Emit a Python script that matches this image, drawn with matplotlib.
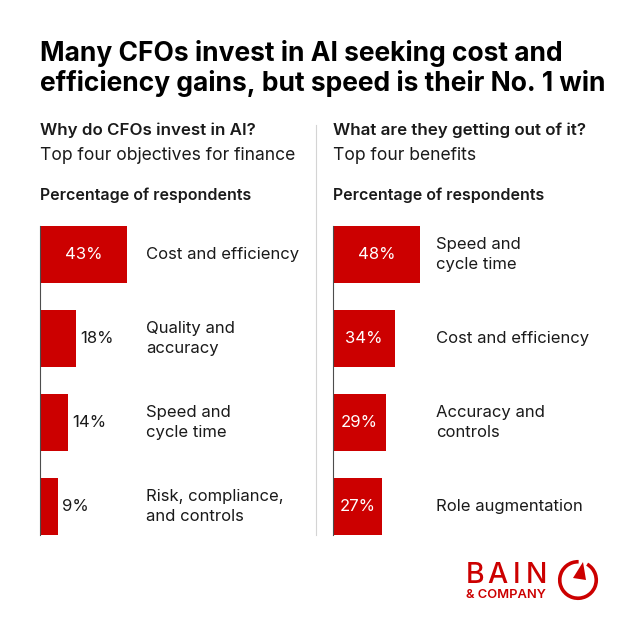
import numpy as np
import matplotlib as mpl
import matplotlib.pyplot as plt
from matplotlib.patches import Arc, Polygon
import matplotlib.transforms as mtransforms

## data
left_cats   = ["Cost and efficiency", "Quality and\naccuracy", "Speed and\ncycle time", "Risk, compliance,\nand controls"]
left_vals   = [43, 18, 14, 9]
right_cats  = ["Speed and\ncycle time", "Cost and efficiency", "Accuracy and\ncontrols", "Role augmentation"]
right_vals  = [48, 34, 29, 27]

title      = "Many CFOs invest in AI seeking cost and\nefficiency gains, but speed is their No. 1 win"
left_head  = "Why do CFOs invest in AI?"
left_sub   = "Top four objectives for finance"
right_head = "What are they getting out of it?"
right_sub  = "Top four benefits"
unit_label = "Percentage of respondents"

RED  = "#cc0000"
INK  = "#1a1a1a"
FONT = "Inter"

mpl.rcParams['font.family'] = FONT

W = H = 640
fig = plt.figure(figsize=(6.4, 6.4), dpi=100)

def fx(x): return x / W
def fy(y): return 1 - y / H

## title + headers (va=baseline aligns the last line)
fig.text(fx(40), fy(91), title, fontsize=19, fontweight="bold", color="black",
         va="baseline", ha="left", linespacing=1.15)

for x0, head, sub in [(40, left_head, left_sub), (333, right_head, right_sub)]:
    fig.text(fx(x0), fy(135), head, fontsize=12.2, fontweight="semibold", color=INK, va="baseline")
    fig.text(fx(x0), fy(160), sub, fontsize=12.6, color=INK, va="baseline")
    fig.text(fx(x0), fy(200), unit_label, fontsize=11.5, fontweight="semibold", color=INK, va="baseline")

## divider
fig.add_artist(plt.Line2D([fx(316), fx(316)], [fy(125), fy(535)], color="#d4d4d4", lw=0.8))

def panel(x0, cats, vals, label_x, inside_min):
    ax_w = 250
    ax = fig.add_axes([fx(x0), fy(535), fx(ax_w), (535 - 226) / H])
    y = np.arange(len(vals))
    ax.barh(y, vals, height=0.68, color=RED, edgecolor="none")
    ax.set_ylim(3.34, -0.34)
    # widest bar spans 87 px
    ax.set_xlim(0, max(vals) * ax_w / 87)
    for s in ["top", "right", "bottom"]:
        ax.spines[s].set_visible(False)
    ax.spines["left"].set_color("#4d4d4d")
    ax.spines["left"].set_linewidth(0.8)
    ax.set_xticks([])
    ax.set_yticks([])
    ax.patch.set_alpha(0)
    trans = mtransforms.blended_transform_factory(fig.transFigure, ax.transData)
    off = mtransforms.offset_copy(ax.transData, fig=fig, x=4, y=0, units="dots")
    for yi, v, c in zip(y, vals, cats):
        if v >= inside_min:
            ax.text(v / 2, yi, f"{v}%", color="white", fontsize=12, ha="center", va="center")
        else:
            ax.text(v, yi, f"{v}%", color=INK, fontsize=12, ha="left", va="center", transform=off)
        ax.text(fx(label_x), yi, c, color=INK, fontsize=12, ha="left", va="center",
                transform=trans, linespacing=1.45)
    return ax

panel(40, left_cats, left_vals, 146, 30)
panel(333, right_cats, right_vals, 436, 0)

## logo
for ch, lx in zip("BAIN", [466, 487, 513, 526]):
    fig.text(fx(lx), fy(583), ch, fontsize=20.5, color=RED, fontweight="medium", va="baseline")
fig.text(fx(466), fy(598.5), "& COMPANY", fontsize=9.3, color=RED, fontweight="semibold", va="baseline")
lax = fig.add_axes([0, 0, 1, 1])
lax.set_xlim(0, W)
lax.set_ylim(H, 0)
lax.axis("off")
lax.patch.set_alpha(0)
# y axis is flipped, so angles are mirrored: visible gap ~60-88 deg
lax.add_patch(Arc((578, 580), 36.5, 36.5, theta1=-60, theta2=272, color=RED, lw=2.6))
lax.add_patch(Polygon([(573, 578), (583, 562), (586, 580)], closed=True, color=RED, lw=0))

fig.savefig("out.png", dpi=100)
